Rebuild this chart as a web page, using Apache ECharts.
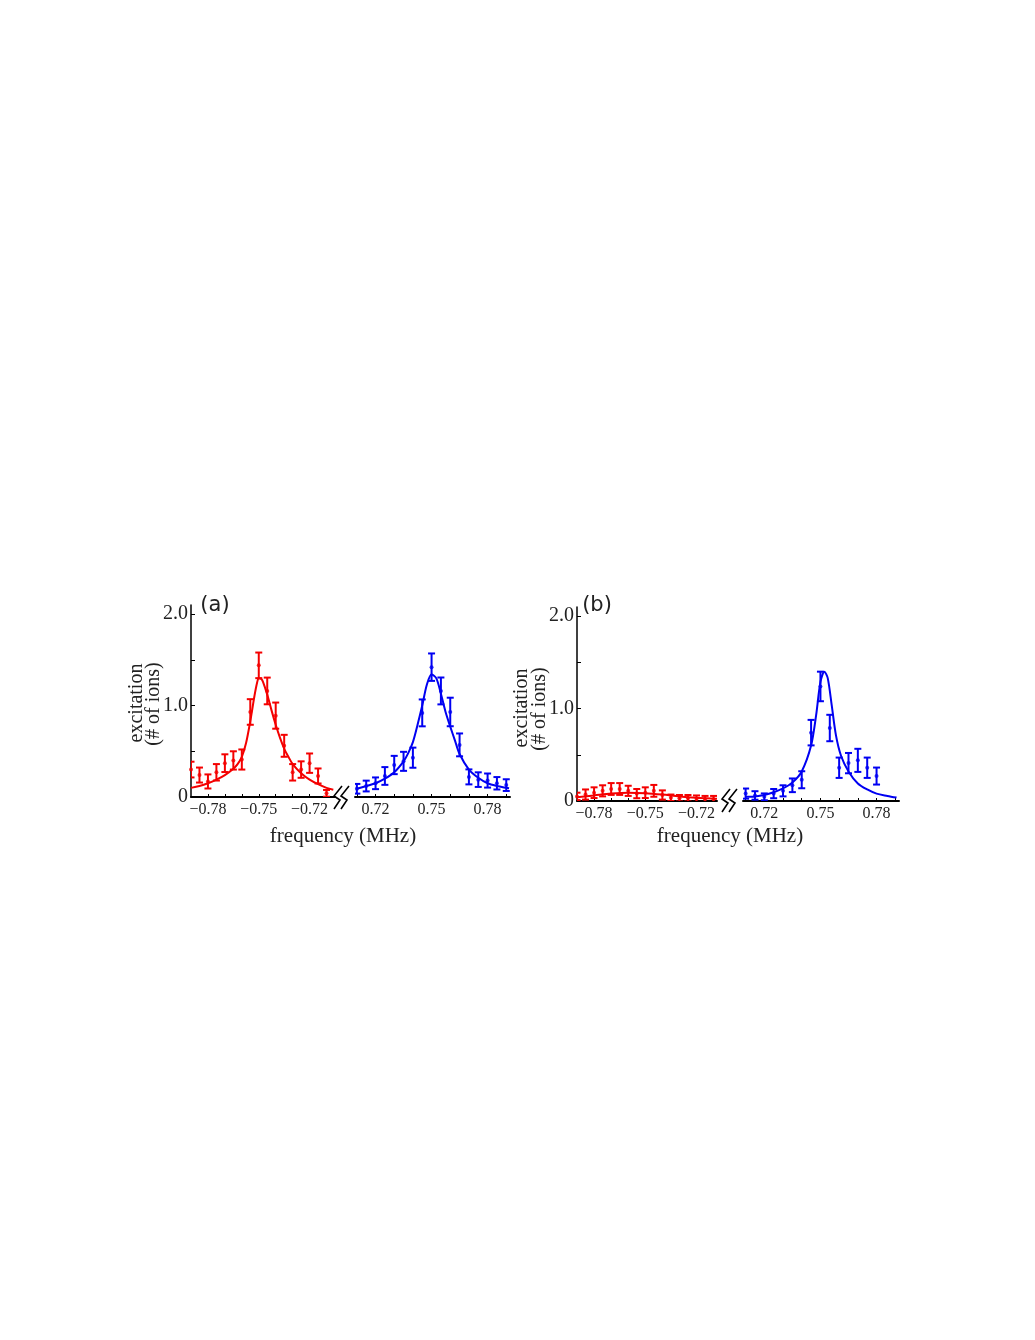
<!DOCTYPE html>
<html>
<head>
<meta charset="utf-8">
<script src="https://cdn.jsdelivr.net/npm/echarts@6/dist/echarts.min.js"></script>
<style>
  html, body { margin: 0; background: #fff; }
  #chart { width: 1035px; height: 1340px; }
</style>
</head>
<body>
<div id="chart"></div>
<script>
// ---- data ----
var redFreq  = [-0.79, -0.785, -0.78, -0.775, -0.77, -0.765, -0.76, -0.755, -0.75, -0.745, -0.74, -0.735, -0.73, -0.725, -0.72, -0.715, -0.71];
var blueFreq = [0.71, 0.715, 0.72, 0.725, 0.73, 0.735, 0.74, 0.745, 0.75, 0.755, 0.76, 0.765, 0.77, 0.775, 0.78, 0.785, 0.79];

// panel (a)
var redA     = [0.30, 0.24, 0.17, 0.27, 0.37, 0.40, 0.41, 0.93, 1.44, 1.16, 0.89, 0.56, 0.27, 0.30, 0.37, 0.23, 0.04];
var redAErr  = [0.086, 0.082, 0.077, 0.09, 0.097, 0.10, 0.11, 0.14, 0.14, 0.146, 0.143, 0.12, 0.09, 0.09, 0.106, 0.082, 0.037];
var blueA    = [0.09, 0.12, 0.15, 0.23, 0.35, 0.39, 0.43, 0.92, 1.42, 1.16, 0.93, 0.57, 0.22, 0.19, 0.18, 0.15, 0.13];
var blueAErr = [0.053, 0.059, 0.064, 0.097, 0.10, 0.104, 0.11, 0.147, 0.15, 0.147, 0.156, 0.125, 0.082, 0.08, 0.077, 0.068, 0.064];

var redAFit = [[-0.79, 0.10], [-0.785, 0.12], [-0.78, 0.15], [-0.775, 0.19], [-0.77, 0.24], [-0.765, 0.31],
  [-0.7625, 0.36], [-0.76, 0.44], [-0.7575, 0.59], [-0.755, 0.83], [-0.7525, 1.11], [-0.751, 1.25],
  [-0.75, 1.30], [-0.7485, 1.29], [-0.7475, 1.26], [-0.745, 1.12], [-0.7425, 0.95], [-0.74, 0.79],
  [-0.7375, 0.65], [-0.735, 0.53], [-0.7325, 0.44], [-0.73, 0.36], [-0.725, 0.26], [-0.72, 0.19],
  [-0.715, 0.14], [-0.71, 0.10], [-0.706, 0.08]];
var blueAFit = [[0.71, 0.09], [0.715, 0.12], [0.72, 0.15], [0.725, 0.20], [0.73, 0.27], [0.735, 0.39],
  [0.7375, 0.48], [0.74, 0.60], [0.7425, 0.79], [0.745, 1.00], [0.7475, 1.23], [0.75, 1.34],
  [0.7525, 1.30], [0.755, 1.13], [0.7575, 0.93], [0.76, 0.77], [0.7625, 0.62], [0.765, 0.47],
  [0.77, 0.30], [0.775, 0.21], [0.78, 0.15], [0.785, 0.12], [0.79, 0.10], [0.7915, 0.095]];

// panel (b)
var redB     = [0.05, 0.07, 0.09, 0.11, 0.13, 0.13, 0.11, 0.08, 0.09, 0.11, 0.065, 0.035, 0.03, 0.03, 0.025, 0.02, 0.02];
var redBErr  = [0.04, 0.055, 0.058, 0.06, 0.064, 0.064, 0.055, 0.05, 0.058, 0.064, 0.05, 0.035, 0.035, 0.035, 0.035, 0.035, 0.035];
var blueBFreq = [0.71, 0.715, 0.72, 0.725, 0.73, 0.735, 0.74, 0.745, 0.75, 0.755, 0.76, 0.765, 0.77, 0.775, 0.78];
var blueB    = [0.08, 0.06, 0.045, 0.08, 0.11, 0.17, 0.23, 0.74, 1.24, 0.79, 0.36, 0.41, 0.44, 0.36, 0.27];
var blueBErr = [0.055, 0.046, 0.037, 0.05, 0.06, 0.074, 0.092, 0.138, 0.16, 0.143, 0.11, 0.11, 0.125, 0.11, 0.092];

var redBFit = [[-0.79, 0.04], [-0.78, 0.06], [-0.77, 0.08], [-0.76, 0.09], [-0.75, 0.085], [-0.74, 0.07],
  [-0.73, 0.05], [-0.72, 0.035], [-0.71, 0.025], [-0.708, 0.024]];
var blueBFit = [[0.71, 0.045], [0.715, 0.05], [0.72, 0.066], [0.725, 0.095], [0.73, 0.136], [0.735, 0.20],
  [0.74, 0.32], [0.745, 0.60], [0.7477, 0.93], [0.75, 1.29], [0.7521, 1.40], [0.7539, 1.33],
  [0.756, 1.04], [0.7583, 0.71], [0.761, 0.49], [0.765, 0.32], [0.77, 0.19], [0.775, 0.125],
  [0.78, 0.08], [0.7858, 0.055], [0.7907, 0.037]];

// tick labels
var negTicks = [-0.78, -0.75, -0.72];
var posTicks = [0.72, 0.75, 0.78];
var negMinor = [-0.78, -0.77, -0.76, -0.75, -0.74, -0.73, -0.72, -0.71];
var posMinor = [0.71, 0.72, 0.73, 0.74, 0.75, 0.76, 0.77, 0.78, 0.79];
var yTicks = [0, 1, 2];
var yMinor = [0, 0.5, 1, 1.5, 2];

var RED = '#f40000';
var BLUE = '#0000f2';
var SERIF = '"Liberation Serif", "DejaVu Serif", serif';
var SANS = '"DejaVu Sans", sans-serif';

function fmtX(v) {
  return v < 0 ? '\u2212' + Math.abs(v).toFixed(2) : v.toFixed(2);
}
function fmtY(v) {
  return v === 0 ? '0' : v.toFixed(1);
}

function bars(freq, vals, errs) {
  return freq.map(function (f, i) { return [f, vals[i] - errs[i], vals[i] + errs[i]]; });
}
function pts(freq, vals) {
  return freq.map(function (f, i) { return [f, vals[i]]; });
}

function errBar(color) {
  return function (params, api) {
    var x = api.value(0);
    var a = api.coord([x, api.value(1)]);
    var b = api.coord([x, api.value(2)]);
    var w = 3.5;
    var st = { stroke: color, lineWidth: 2 };
    return {
      type: 'group',
      children: [
        { type: 'line', shape: { x1: a[0], y1: a[1], x2: b[0], y2: b[1] }, style: st },
        { type: 'line', shape: { x1: a[0] - w, y1: a[1], x2: a[0] + w, y2: a[1] }, style: st },
        { type: 'line', shape: { x1: b[0] - w, y1: b[1], x2: b[0] + w, y2: b[1] }, style: st }
      ]
    };
  };
}

function xAx(idx, min, max, labels, minor) {
  return {
    type: 'value', gridIndex: idx, min: min, max: max,
    axisLine: { show: true, lineStyle: { color: '#000', width: 2 } },
    axisTick: { show: true, inside: true, length: 3, customValues: minor, lineStyle: { color: '#000' } },
    axisLabel: { show: true, customValues: labels, formatter: fmtX, margin: 5,
      fontFamily: SERIF, fontSize: 16, color: '#222' },
    splitLine: { show: false }
  };
}
function yAx(idx, visible) {
  return {
    type: 'value', gridIndex: idx, min: 0, max: 2.1, show: visible,
    axisLine: { show: true, lineStyle: { color: '#000', width: 1.5 } },
    axisTick: { show: true, inside: true, length: 4, customValues: yMinor, lineStyle: { color: '#000' } },
    axisLabel: { show: true, customValues: yTicks, formatter: fmtY, margin: 3,
      fontFamily: SERIF, fontSize: 20, color: '#222' },
    splitLine: { show: false }
  };
}

function panelSeries(k, freq, vals, errs, fit, color) {
  return [
    { type: 'line', xAxisIndex: k, yAxisIndex: k, data: fit, smooth: 0.3, showSymbol: false,
      lineStyle: { color: color, width: 2 }, silent: true, z: 2 },
    { type: 'custom', xAxisIndex: k, yAxisIndex: k, data: bars(freq, vals, errs),
      renderItem: errBar(color), clip: true, z: 3 },
    { type: 'scatter', xAxisIndex: k, yAxisIndex: k, data: pts(freq, vals), symbolSize: 4,
      itemStyle: { color: color }, z: 4 }
  ];
}

function brk(x0, y0) {
  var s = { stroke: '#000', lineWidth: 1.6, fill: null };
  return [0, 7].map(function (d) {
    return { type: 'polyline', silent: true,
      shape: { points: [[x0 + 8 + d, y0], [x0 + d, y0 + 10], [x0 + 6 + d, y0 + 14], [x0 + d, y0 + 23]] },
      style: s };
  });
}

function txt(x, y, s, font, size, rot) {
  return { type: 'text', x: x, y: y, rotation: rot || 0, silent: true,
    style: { text: s, font: size + 'px ' + font, fill: '#222', align: 'center', verticalAlign: 'middle' } };
}

var chart = echarts.init(document.getElementById('chart'));
var option = {
  animation: false,
  backgroundColor: '#fff',
  grid: [
    { left: 191, top: 605, width: 144, height: 192 },
    { left: 355, top: 605, width: 155, height: 192 },
    { left: 577, top: 607, width: 140, height: 194 },
    { left: 743, top: 607, width: 156, height: 194 }
  ],
  xAxis: [
    xAx(0, -0.79, -0.705, negTicks, negMinor),
    xAx(1, 0.709, 0.792, posTicks, posMinor),
    xAx(2, -0.79, -0.708, negTicks, negMinor),
    xAx(3, 0.7086, 0.792, posTicks, posMinor)
  ],
  yAxis: [yAx(0, true), yAx(1, false), yAx(2, true), yAx(3, false)],
  series: [].concat(
    panelSeries(0, redFreq, redA, redAErr, redAFit, RED),
    panelSeries(1, blueFreq, blueA, blueAErr, blueAFit, BLUE),
    panelSeries(2, redFreq, redB, redBErr, redBFit, RED),
    panelSeries(3, blueBFreq, blueB, blueBErr, blueBFit, BLUE)
  ),
  graphic: [].concat(
    brk(334, 786),
    brk(722, 789),
    [
      txt(215, 606, '(a)', SANS, 21),
      txt(597, 606, '(b)', SANS, 21),
      txt(137, 703, 'excitation', SERIF, 20, Math.PI / 2),
      txt(154, 704, '(# of ions)', SERIF, 20, Math.PI / 2),
      txt(522, 708, 'excitation', SERIF, 20, Math.PI / 2),
      txt(540, 709, '(# of ions)', SERIF, 20, Math.PI / 2),
      txt(343, 836, 'frequency (MHz)', SERIF, 21),
      txt(730, 836, 'frequency (MHz)', SERIF, 21)
    ]
  )
};
chart.setOption(option);
</script>
</body>
</html>
